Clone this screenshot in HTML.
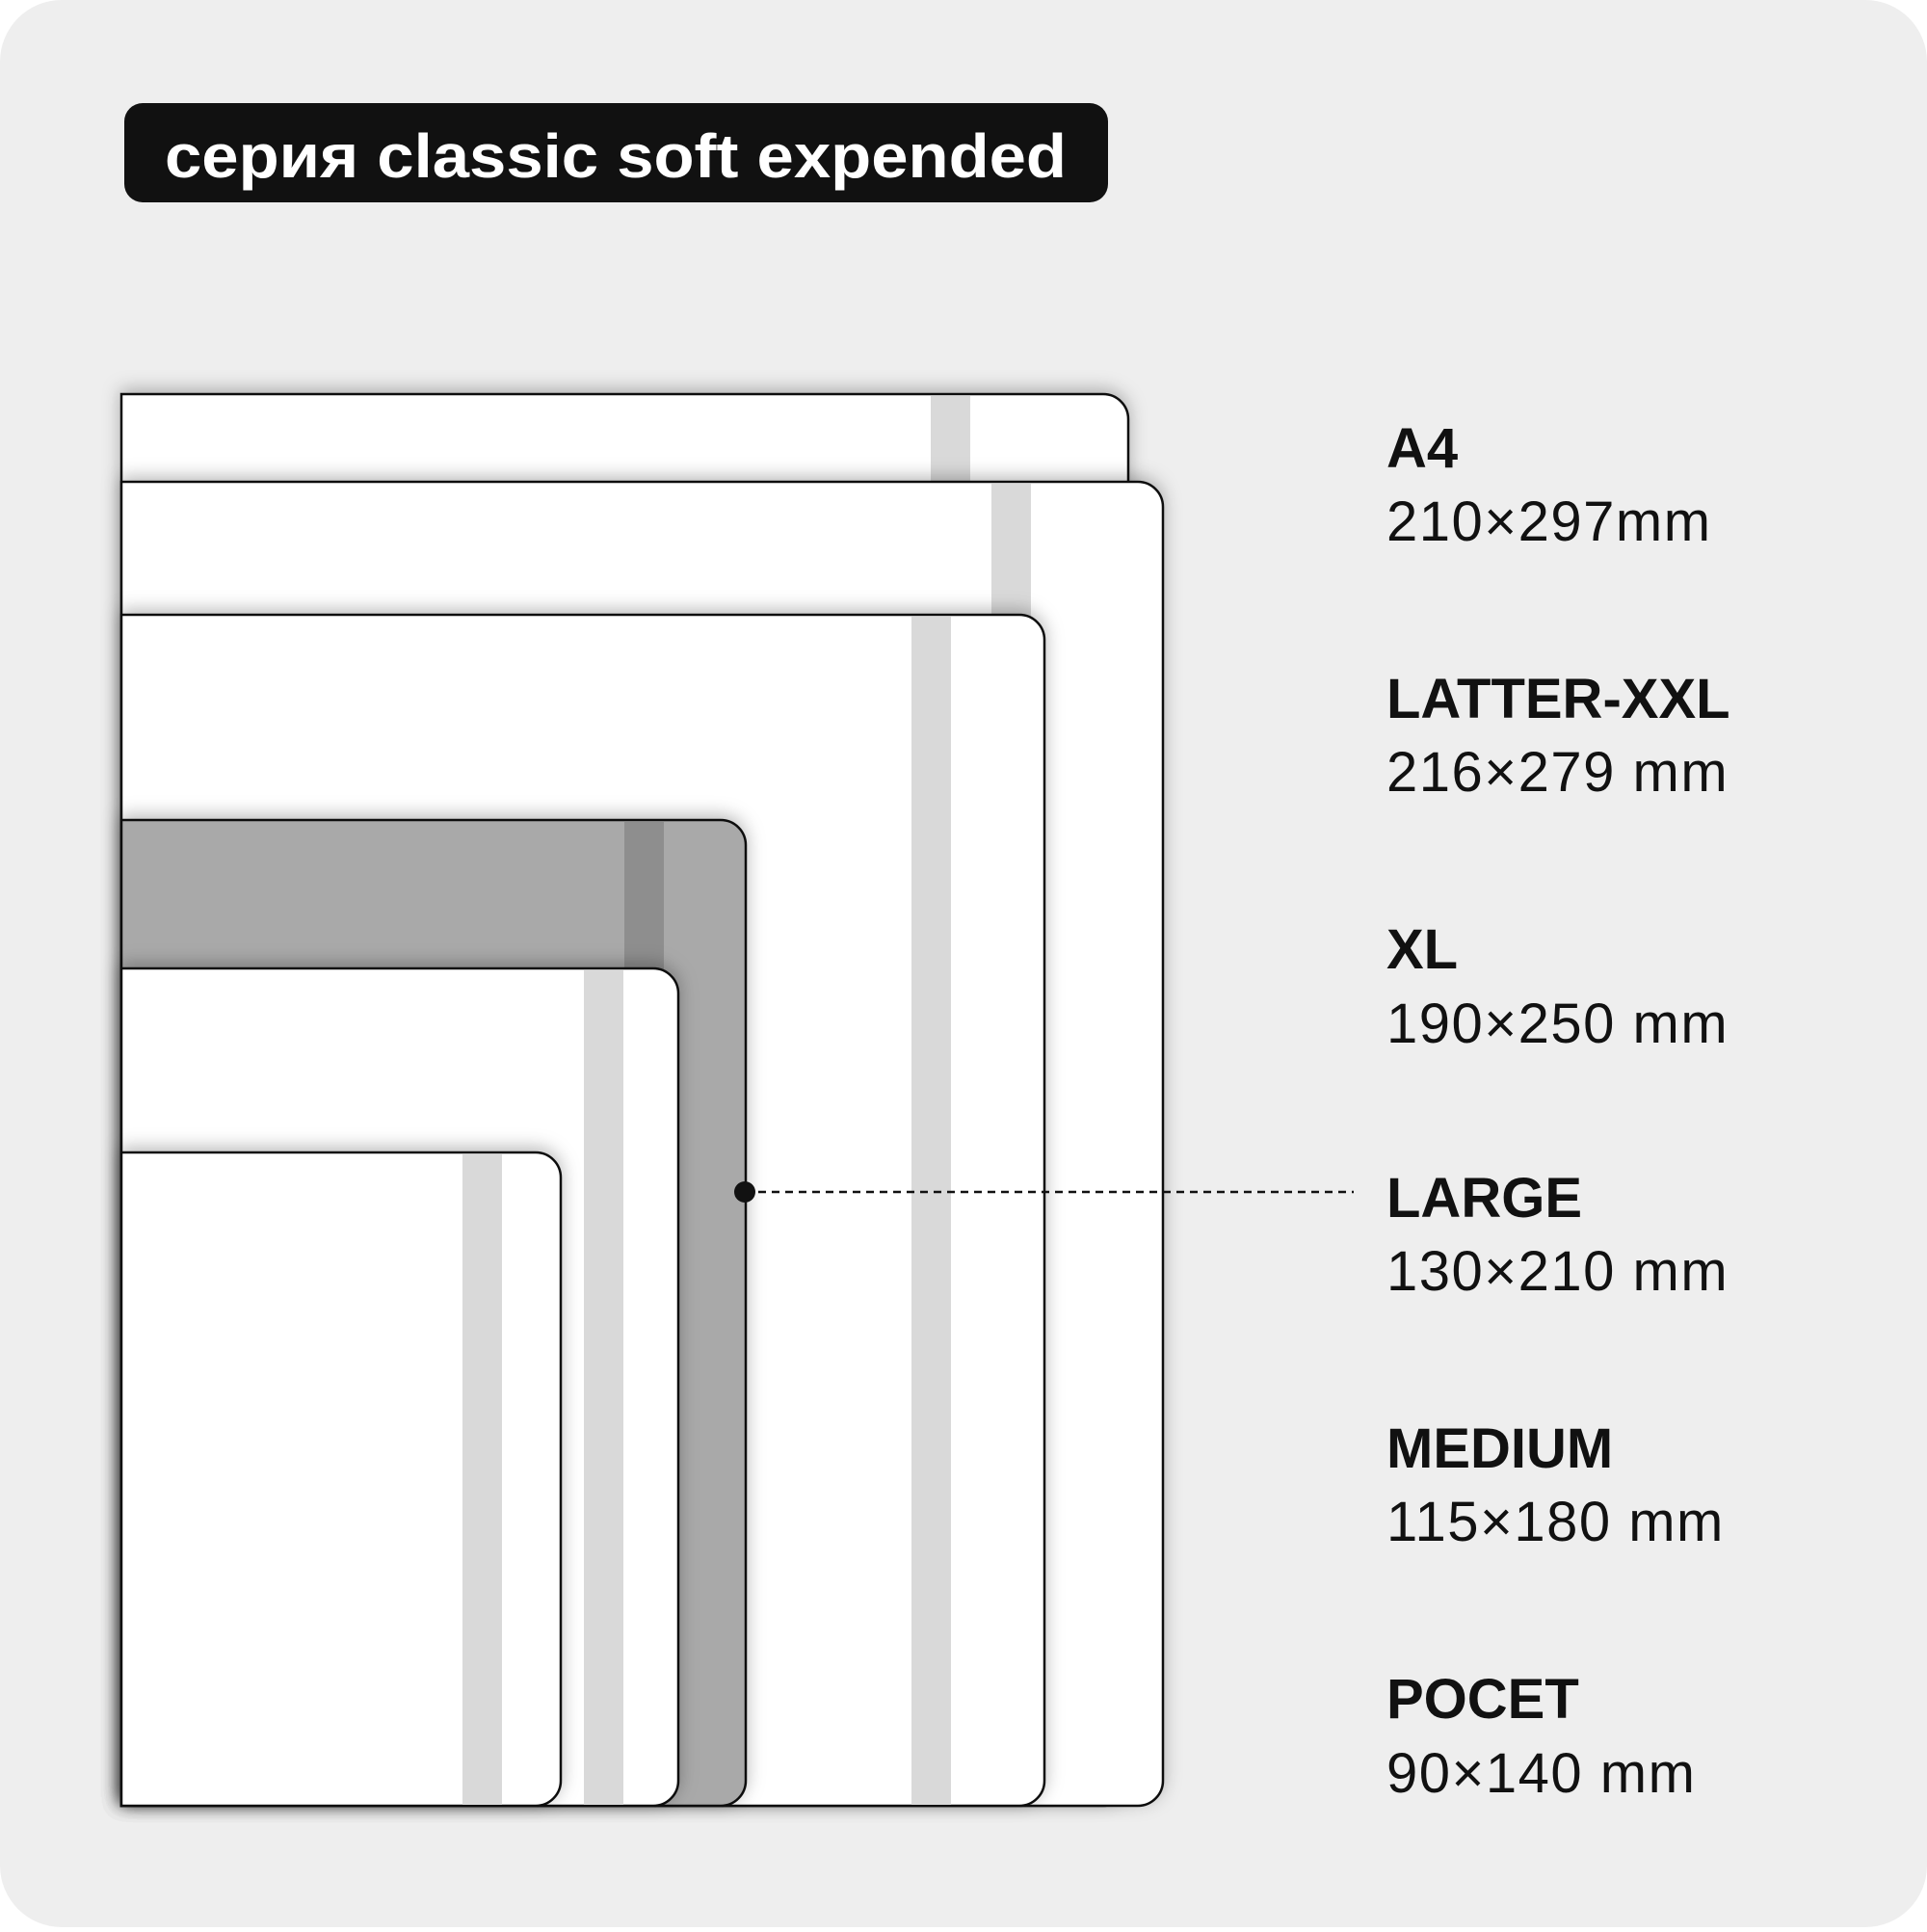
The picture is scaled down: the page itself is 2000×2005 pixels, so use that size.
<!DOCTYPE html>
<html><head><meta charset="utf-8"><style>html,body{margin:0;padding:0;background:#fff}</style></head>
<body>
<svg width="2000" height="2000" viewBox="0 0 2000 2000" xmlns="http://www.w3.org/2000/svg">
<defs>
<filter id="sh" x="-10%" y="-10%" width="120%" height="120%">
<feDropShadow dx="0" dy="-4" stdDeviation="9" flood-color="#000" flood-opacity="0.28"/>
</filter>
</defs>
<rect x="0" y="0" width="2000" height="2000" rx="64" fill="#eeeeee"/>
<rect x="129" y="107" width="1021" height="103" rx="19" fill="#111"/>
<text x="171" y="184" font-family="Liberation Sans, sans-serif" font-weight="bold" font-size="64" fill="#fff" textLength="936" lengthAdjust="spacingAndGlyphs">серия classic soft expended</text>

<g stroke="#111" stroke-width="2.5">
<g filter="url(#sh)"><path d="M126 409 H1145 a26 26 0 0 1 26 26 V1848 a26 26 0 0 1 -26 26 H126 Z" fill="#fff"/></g>
<rect x="966" y="411" width="41" height="1462" fill="#d9d9d9" stroke="none"/>
<g filter="url(#sh)"><path d="M126 500 H1181 a26 26 0 0 1 26 26 V1848 a26 26 0 0 1 -26 26 H126 Z" fill="#fff"/></g>
<rect x="1029" y="502" width="41" height="1371" fill="#d9d9d9" stroke="none"/>
<g filter="url(#sh)"><path d="M126 638 H1058 a26 26 0 0 1 26 26 V1848 a26 26 0 0 1 -26 26 H126 Z" fill="#fff"/></g>
<rect x="946" y="640" width="41" height="1233" fill="#d9d9d9" stroke="none"/>
<g filter="url(#sh)"><path d="M126 851 H748 a26 26 0 0 1 26 26 V1848 a26 26 0 0 1 -26 26 H126 Z" fill="#a9a9a9"/></g>
<rect x="648" y="853" width="41" height="1020" fill="#8e8e8e" stroke="none"/>
<g filter="url(#sh)"><path d="M126 1005 H678 a26 26 0 0 1 26 26 V1848 a26 26 0 0 1 -26 26 H126 Z" fill="#fff"/></g>
<rect x="606" y="1007" width="41" height="866" fill="#d9d9d9" stroke="none"/>
<g filter="url(#sh)"><path d="M126 1196 H556 a26 26 0 0 1 26 26 V1848 a26 26 0 0 1 -26 26 H126 Z" fill="#fff"/></g>
<rect x="480" y="1198" width="41" height="675" fill="#d9d9d9" stroke="none"/>
</g>

<line x1="773" y1="1237" x2="1405" y2="1237" stroke="#111" stroke-width="2.5" stroke-dasharray="8 6"/>
<circle cx="773" cy="1237" r="11" fill="#111"/>

<g font-family="Liberation Sans, sans-serif" font-size="58" fill="#111">
<text x="1439" y="485" font-weight="bold">A4</text>
<text x="1439" y="561" letter-spacing="1.5">210×297mm</text>
<text x="1439" y="745" font-weight="bold">LATTER-XXL</text>
<text x="1439" y="821" letter-spacing="1.5">216×279 mm</text>
<text x="1439" y="1005" font-weight="bold">XL</text>
<text x="1439" y="1082" letter-spacing="1.5">190×250 mm</text>
<text x="1439" y="1263" font-weight="bold">LARGE</text>
<text x="1439" y="1339" letter-spacing="1.5">130×210 mm</text>
<text x="1439" y="1523" font-weight="bold">MEDIUM</text>
<text x="1439" y="1599" letter-spacing="1.5">115×180 mm</text>
<text x="1439" y="1783" font-weight="bold">POCET</text>
<text x="1439" y="1860" letter-spacing="1.5">90×140 mm</text>
</g>
</svg>
</body></html>
